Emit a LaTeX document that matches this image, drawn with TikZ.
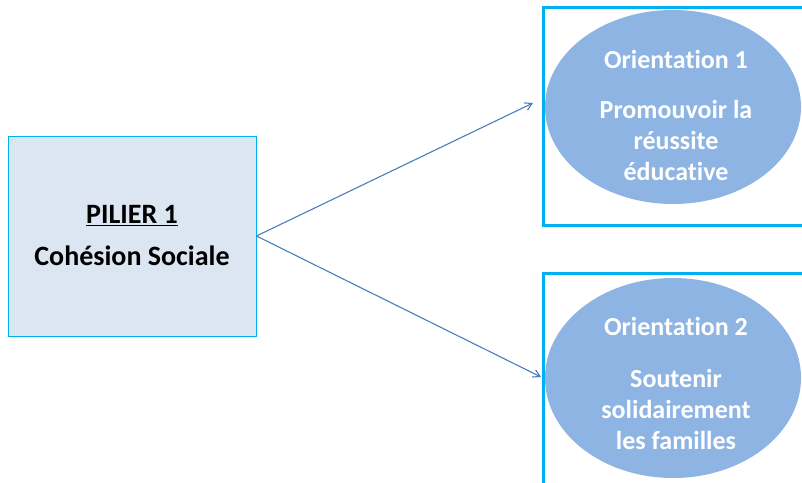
\documentclass[tikz,border=0pt]{standalone}
\usepackage{fontspec}
\setmainfont{Carlito}[Ligatures=NoCommon]
\usetikzlibrary{arrows.meta}
\usetikzlibrary{shapes}
\definecolor{cyanbord}{HTML}{00B0F0}
\definecolor{fondpilier}{HTML}{DCE6F2}
\definecolor{fondorient}{HTML}{8EB4E3}
\definecolor{fleche}{HTML}{4A7EBB}
\tikzset{
	every node/.style={font=\bfseries},
	align=center,
	pilier/.style={
		draw=cyanbord,
		line width=0.9pt,
		fill=fondpilier,
		rectangle,
		minimum width=248pt,
		minimum height=200pt,
		font=\fontsize{28}{42}\selectfont\bfseries,
	},
	cadre/.style={
		draw=cyanbord,
		line width=3pt,
		rectangle,
		minimum width=268pt,
		minimum height=218pt,
		inner sep=0pt,
	},
	orient/.style={
		ellipse,
		fill=fondorient,
		inner sep=0pt,
		minimum width=256pt,
	},
	texte/.style={
		text=white,
		inner sep=0pt,
		font=\fontsize{26}{31}\selectfont\bfseries,
	},
	lien/.style={
		draw=fleche,
		line width=1.1pt,
		-{Straight Barb[angle=60:8pt 0]}
	},
}
\begin{document}
\begin{tikzpicture}[x=1pt,y=-1pt]
		\useasboundingbox (0,0) rectangle (802,482);
		\clip (0,0) rectangle (802,482);

		\node[pilier] (pilier) at (132,236) {\underline{PILIER 1}\\Cohésion Sociale};

		\node[cadre] (cadre1) at (677,116) {};
		\node[cadre] (cadre2) at (677,382) {};

		\node[orient, minimum height=194pt] (orient1) at (673,107) {};
		\node[orient, minimum height=200pt] (orient2) at (673,378) {};

		\node[texte] (texte1) at (676,115) {Orientation 1\\[19pt]Promouvoir la\\réussite\\éducative};
		\node[texte] (texte2) at (676,383) {Orientation 2\\[21pt]Soutenir\\solidairement\\les familles};

		\coordinate (bout1) at (533,103);
		\coordinate (bout2) at (541,377);

		\draw[lien] (pilier.east) -- (bout1);
		\draw[lien] (pilier.east) -- (bout2);

	\end{tikzpicture}
\end{document}
